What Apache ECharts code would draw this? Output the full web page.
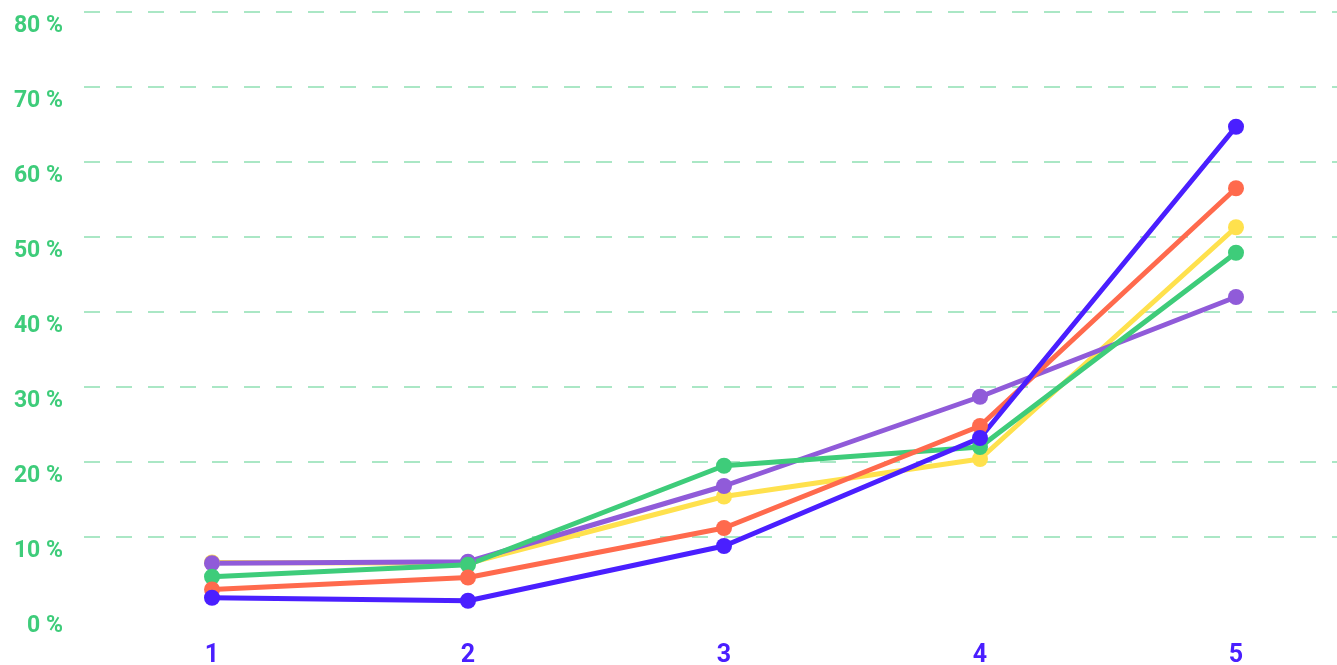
<!DOCTYPE html>
<html>
<head>
<meta charset="utf-8">
<script src="https://cdn.jsdelivr.net/npm/echarts@6/dist/echarts.min.js"></script>
<style>
  html, body { margin: 0; padding: 0; background: #fff; }
  #chart { width: 1337px; height: 665px; }
</style>
</head>
<body>
<div id="chart"></div>
<script>
const categories = ['1', '2', '3', '4', '5']
const yellowData = [6.6, 6.5, 15.4, 20.4, 51.3]
const purpleData = [6.5, 6.7, 16.8, 28.7, 42.0]
const greenData = [4.7, 6.3, 19.5, 22.0, 47.9]
const orangeData = [3.0, 4.6, 11.2, 24.8, 56.5]
const blueData = [1.9, 1.5, 8.8, 23.2, 64.7]

const chart = echarts.init(document.getElementById('chart'))

function lineSeries (name, color, data) {
  return {
    name: name,
    type: 'line',
    data: data,
    symbol: 'circle',
    symbolSize: 16,
    lineStyle: { width: 5, color: color },
    itemStyle: { color: color },
    emphasis: { disabled: true }
  }
}

chart.setOption({
  backgroundColor: '#fff',
  animation: false,
  grid: { left: 84, right: -27, top: 12, bottom: 53, outerBoundsMode: 'none' },
  xAxis: {
    type: 'category',
    data: categories,
    axisLine: { show: false },
    axisTick: { show: false },
    axisLabel: {
      color: '#4a1fff',
      fontFamily: 'Roboto',
      fontWeight: 'bold',
      fontSize: 25,
      margin: 31
    }
  },
  yAxis: {
    type: 'value',
    min: 0,
    max: 80,
    interval: 10,
    axisLine: { show: false },
    axisTick: { show: false },
    splitLine: {
      show: true,
      showMinLine: false,
      lineStyle: { color: '#8fdfb3', width: 1.5, type: [16, 16] }
    },
    axisLabel: {
      formatter: '{value} %',
      color: '#3ecc7a',
      fontFamily: 'Roboto',
      fontWeight: 'bold',
      fontSize: 23,
      verticalAlign: 'top',
      padding: [3, 0, 0, 0],
      margin: 21
    }
  },
  series: [
    lineSeries('yellow', '#ffe14d', yellowData),
    lineSeries('purple', '#905bd9', purpleData),
    lineSeries('green', '#3ecc7a', greenData),
    lineSeries('orange', '#ff6a4d', orangeData),
    lineSeries('blue', '#4a1fff', blueData)
  ]
})
</script>
</body>
</html>
